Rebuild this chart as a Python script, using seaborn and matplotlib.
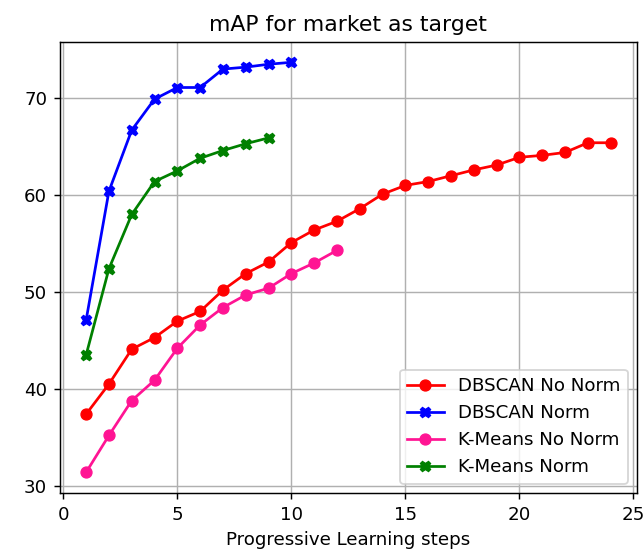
import matplotlib
matplotlib.use("Agg")
import matplotlib.pyplot as plt
import seaborn as sns
import pandas as pd

dbscan_no_norm = [37.4, 40.5, 44.1, 45.3, 47.0, 48.0, 50.2, 51.9, 53.1, 55.1, 56.4, 57.3,
                  58.6, 60.1, 61.0, 61.4, 62.0, 62.6, 63.1, 63.9, 64.1, 64.4, 65.4, 65.4]
dbscan_norm = [47.1, 60.4, 66.7, 69.9, 71.1, 71.1, 73.0, 73.2, 73.5, 73.7]
kmeans_no_norm = [31.4, 35.2, 38.8, 40.9, 44.2, 46.6, 48.4, 49.7, 50.4, 51.9, 53.0, 54.3]
kmeans_norm = [43.5, 52.4, 58.0, 61.4, 62.5, 63.8, 64.6, 65.3, 65.9]

series = [
    ("DBSCAN No Norm", dbscan_no_norm, "red", "o"),
    ("DBSCAN Norm", dbscan_norm, "blue", "X"),
    ("K-Means No Norm", kmeans_no_norm, "deeppink", "o"),
    ("K-Means Norm", kmeans_norm, "green", "X"),
]

DPI = 131
fig, ax = plt.subplots(figsize=(644 / DPI, 550 / DPI), dpi=DPI)
for name, vals, color, marker in series:
    df = pd.DataFrame({"step": range(1, len(vals) + 1), "mAP": vals})
    sns.lineplot(data=df, x="step", y="mAP", ax=ax, color=color, marker=marker,
                 markersize=6, markeredgecolor=color, linewidth=1.5, label=name)

ax.set_title("mAP for market as target")
ax.set_xlabel("Progressive Learning steps")
ax.set_ylabel("")
ax.set_xticks([0, 5, 10, 15, 20, 25])
ax.grid(True)
ax.legend(loc="lower right")
fig.subplots_adjust(left=0.093, right=0.989, top=0.924, bottom=0.104)
fig.savefig("out.png", dpi=DPI)
